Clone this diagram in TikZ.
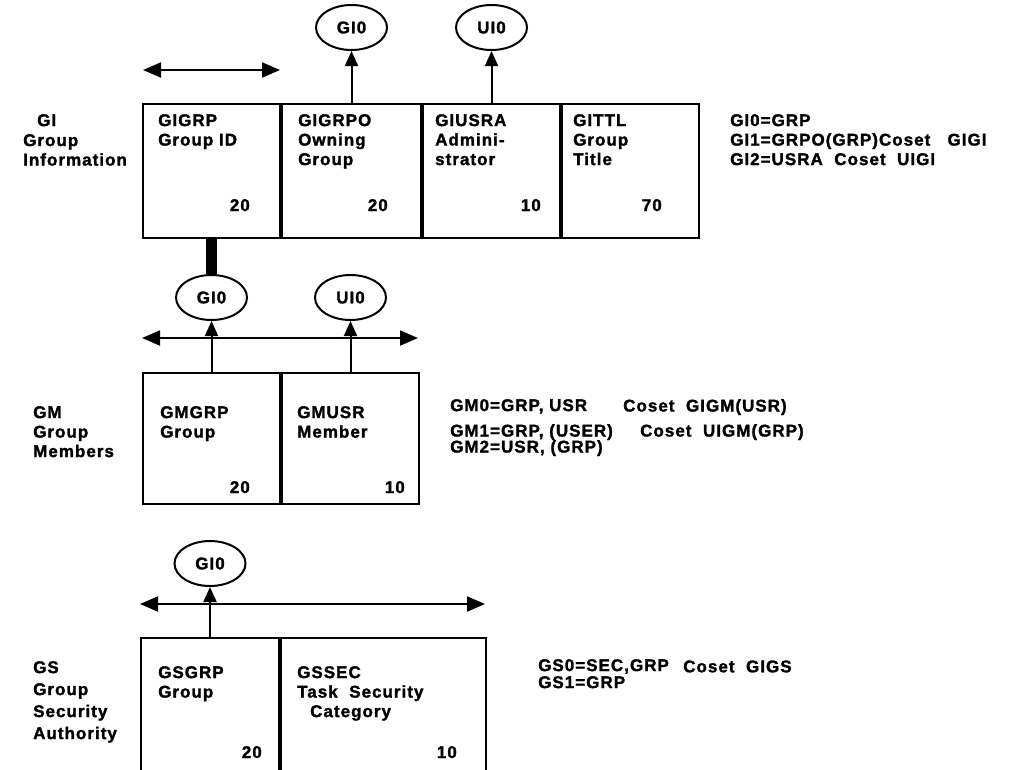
\documentclass[tikz,border=0pt]{standalone}
\usepackage{fontspec}
\setmainfont{Liberation Sans}[LetterSpace=6,BoldFeatures={FakeBold=1.6}]
\usetikzlibrary{arrows.meta,positioning,shapes.geometric}
\tikzset{cell/.style={draw,line width=2pt,inner sep=0pt,minimum height=#1},
  key/.style={draw,ellipse,line width=2pt,minimum width=71pt,minimum height=45pt,inner sep=0pt},
  txt/.style={align=left,inner sep=0pt,anchor=north west},
  num/.style={inner sep=0pt,anchor=base east},
  up/.style={-{Triangle[length=15pt,width=13pt]},line width=2pt},
  both/.style={{Triangle[length=18pt,width=15pt]}-{Triangle[length=18pt,width=15pt]},line width=2pt},
  bar/.style={line width=11pt}}

\begin{document}
\begin{tikzpicture}[x=1pt,y=-1pt,font=\fontsize{17}{19.5}\selectfont\bfseries]
\useasboundingbox (0,0) rectangle (1016,769);
\clip (0,0) rectangle (1016,769);
% GI group information
\node[cell=134pt,minimum width=137pt,anchor=north west] (gigrp) at (142,103) {};
\node[cell=134pt,minimum width=139pt,right=0pt of gigrp] (gigrpo) {};
\node[cell=134pt,minimum width=137pt,right=0pt of gigrpo] (giusra) {};
\node[cell=134pt,minimum width=137pt,right=0pt of giusra] (gittl) {};
\node[key,above=52pt of gigrpo] (gigi) {GI0};
\node[key,above=52pt of giusra] (giui) {UI0};
\draw[up] (gigrpo.north) -- (gigi.south);
\draw[up] (giusra.north) -- (giui.south);
\coordinate (gil) at (143,70); \coordinate (gir) at (280,70);
\draw[both] (gil) -- (gir);
\node[txt] (gilab) at (37,114) {GI};
\node[txt] (ginm) at (23,134) {Group\\Information};
\node[txt] (gigrpt) at (158,114) {GIGRP\\Group ID};
\node[txt] (gigrpot) at (298,114) {GIGRPO\\Owning\\Group};
\node[txt] (giusrat) at (435,114) {GIUSRA\\Admini-\\strator};
\node[txt] (gittlt) at (573,114) {GITTL\\Group\\Title};
\node[num] (gin1) at (250,211) {20};
\node[num] (gin2) at (388,211) {20};
\node[num] (gin3) at (541,211) {10};
\node[num] (gin4) at (662,211) {70};
\node[txt] (gikeys) at (730,114) {GI0=GRP\\GI1=GRPO(GRP)Coset\ \ \ GIGI\\GI2=USRA\ \ Coset\ \ UIGI};
% GM group members
\node[cell=131pt,minimum width=137pt,anchor=north west] (gmgrp) at (142,372) {};
\node[cell=131pt,minimum width=137pt,right=0pt of gmgrp] (gmusr) {};
\node[key,above=51pt of gmgrp] (gmgi) {GI0};
\node[key,above=51pt of gmusr] (gmui) {UI0};
\draw[bar] (gigrp.south) -- (gmgi.north);
\coordinate (gml) at (142,338); \coordinate (gmr) at (418,338);
\draw[both] (gml) -- (gmr);
\draw[up] (gmgrp.north) -- (gmgi.south);
\draw[up] (gmusr.north) -- (gmui.south);
\node[txt] (gmlab) at (33,406) {GM\\Group\\Members};
\node[txt] (gmgrpt) at (160,406) {GMGRP\\Group};
\node[txt] (gmusrt) at (297,406) {GMUSR\\Member};
\node[num] (gmn1) at (250,493) {20};
\node[num] (gmn2) at (405,493) {10};
\node[txt] (gmk0) at (450,399) {GM0=GRP,\ USR};
\node[txt] (gmc0) at (623,399) {Coset\ \ GIGM(USR)};
\node[txt] (gmk1) at (450,424) {GM1=GRP,\ (USER)};
\node[txt] (gmc1) at (640,424) {Coset\ \ UIGM(GRP)};
\node[txt] (gmk2) at (450,440) {GM2=USR,\ (GRP)};
% GS group security authority
\node[cell=150pt,minimum width=138pt,anchor=north west] (gsgrp) at (140,637) {};
\node[cell=150pt,minimum width=205pt,right=0pt of gsgrp] (gssec) {};
\node[key,above=50pt of gsgrp] (gsgi) {GI0};
\coordinate (gsl) at (140,604); \coordinate (gsr) at (485,604);
\draw[both] (gsl) -- (gsr);
\draw[up] (gsgrp.north) -- (gsgi.south);
\node[txt,font=\fontsize{17}{22}\selectfont\bfseries] (gslab) at (33,661) {GS\\Group\\Security\\Authority};
\node[txt] (gsgrpt) at (158,666) {GSGRP\\Group};
\node[txt] (gssect) at (297,666) {GSSEC\\Task\ \ Security\\\hspace{13pt}Category};
\node[num] (gsn1) at (262,758) {20};
\node[num] (gsn2) at (457,758) {10};
\node[txt] (gsk0) at (538,659) {GS0=SEC,GRP};
\node[txt,right=14pt of gsk0] (gsc0) {Coset\ \ GIGS};
\node[txt] (gsk1) at (538,676) {GS1=GRP};
\end{tikzpicture}
\end{document}
